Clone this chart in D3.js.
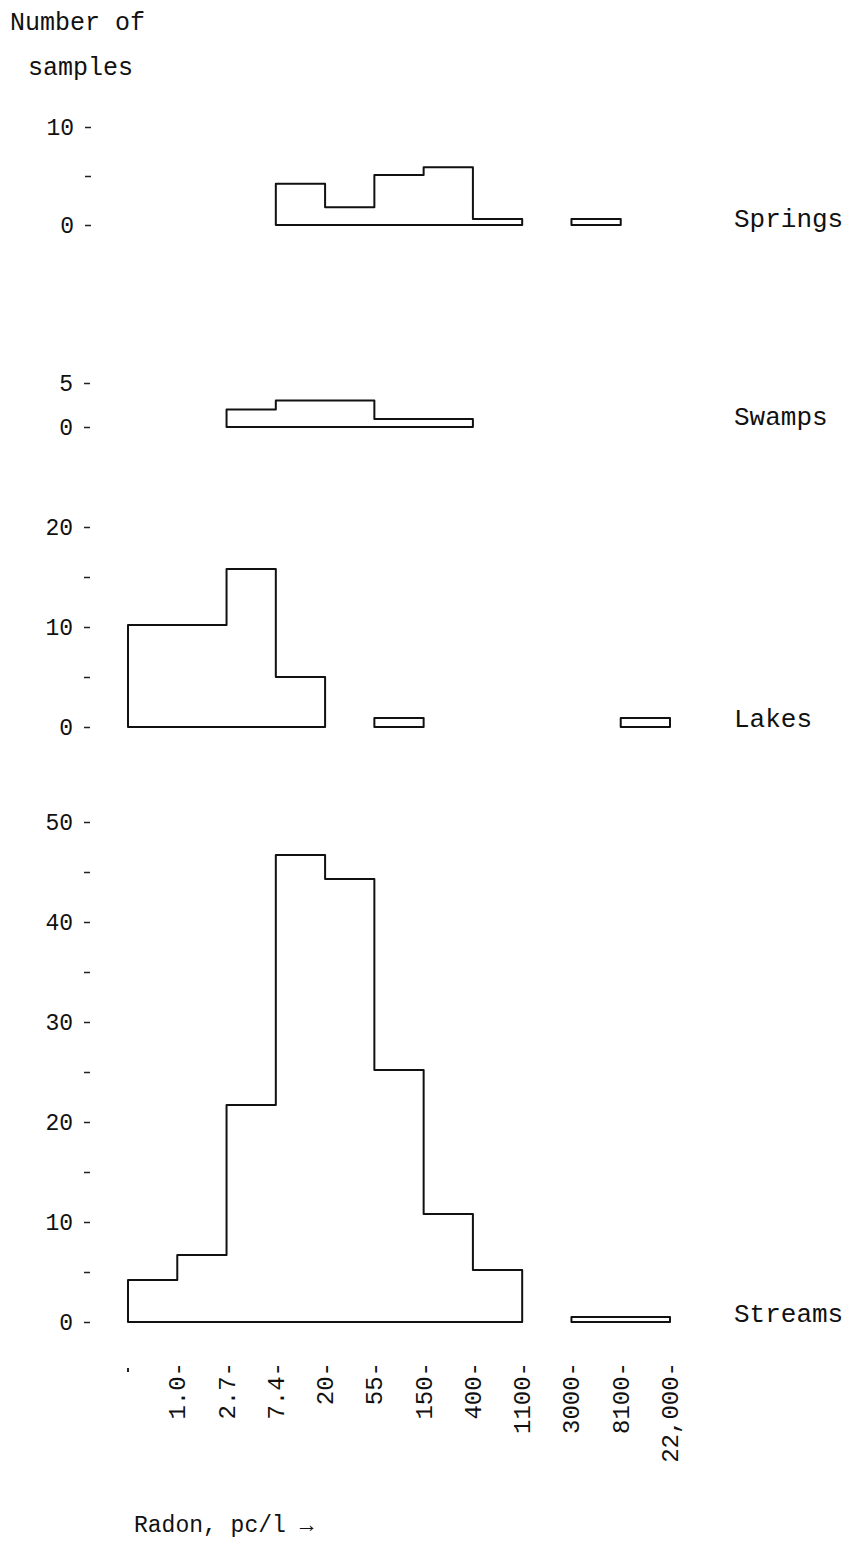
<!DOCTYPE html>
<html>
<head>
<meta charset="utf-8">
<script src="https://cdn.jsdelivr.net/npm/d3@7"></script>
<style>
  body { margin: 0; background: #fff; }
  svg text { font-family: "Liberation Mono", "DejaVu Sans Mono", monospace; fill: #111; }
</style>
</head>
<body>
<svg id="chart" width="858" height="1544"></svg>
<script>
// bin edges along the radon axis (pc/l), first edge has no label
const edgeLabels = ["", "1.0", "2.7", "7.4", "20", "55", "150", "400", "1100", "3000", "8100", "22,000"];

// counts per bin (11 bins between the 12 edges)
const springs = [0, 0, 0, 4.2, 1.8, 5.1, 5.9, 0.6, 0, 0.6, 0];
const swamps  = [0, 0, 2, 3, 3, 0.9, 0.9, 0, 0, 0, 0];
const lakes   = [10.2, 10.2, 15.8, 5, 0, 0.9, 0, 0, 0, 0, 0.9];
const streams = [4.2, 6.7, 21.7, 46.7, 44.3, 25.2, 10.8, 5.2, 0, 0.5, 0.5];

const panelNames = ["Springs", "Swamps", "Lakes", "Streams"];
const panelMax   = [10, 5, 20, 50];
const minorTicks = [[0, 5, 10], [0, 5], [0, 5, 10, 15, 20], d3.range(0, 51, 5)];
const labelTicks = [[0, 10], [0, 5], [0, 10, 20], [0, 10, 20, 30, 40, 50]];

const svg = d3.select("#chart");

const x = d3.scaleLinear().domain([0, edgeLabels.length - 1]).range([128, 670]);

// layout of the four stacked panels: y of zero line, y of max value, x of tick marks
const panels = [
  { data: springs, y0: 225, y1: 127, axisX: 91, labelY: 220 },
  { data: swamps,  y0: 427, y1: 383, axisX: 90, labelY: 418 },
  { data: lakes,   y0: 727, y1: 527, axisX: 90, labelY: 720 },
  { data: streams, y0: 1322, y1: 822, axisX: 90, labelY: 1315 }
];

// turn a count array into step outlines, one closed shape for each run of non-empty bins
function runs(values) {
  const out = [];
  let cur = null;
  values.forEach((v, i) => {
    if (v > 0) {
      if (!cur) { cur = { start: i, vals: [] }; out.push(cur); }
      cur.vals.push(v);
    } else {
      cur = null;
    }
  });
  return out;
}

function outline(run, y) {
  const pts = [[x(run.start), y(0)]];
  run.vals.forEach((v, k) => {
    pts.push([x(run.start + k), y(v)]);
    pts.push([x(run.start + k + 1), y(v)]);
  });
  pts.push([x(run.start + run.vals.length), y(0)]);
  return pts;
}

const line = d3.line();

panels.forEach((p, idx) => {
  const y = d3.scaleLinear().domain([0, panelMax[idx]]).range([p.y0, p.y1]);
  const g = svg.append("g").attr("class", "panel");

  // left axis: short dashes every 5, numbers on the labelled ones
  const axis = d3.axisLeft(y)
    .tickValues(minorTicks[idx])
    .tickSize(6)
    .tickPadding(11)
    .tickFormat(d => labelTicks[idx].includes(d) ? d : "");
  const ag = g.append("g").attr("transform", `translate(${p.axisX},0)`).call(axis);
  ag.select(".domain").remove();
  ag.selectAll(".tick line").attr("stroke", "#222").attr("stroke-width", 1.5);
  ag.selectAll(".tick text")
    .style("font-size", "23px")
    .attr("fill", "#111");

  // histogram outlines
  g.selectAll("path.hist")
    .data(runs(p.data))
    .join("path")
    .attr("class", "hist")
    .attr("d", r => line(outline(r, y)) + "Z")
    .attr("fill", "none")
    .attr("stroke", "#111")
    .attr("stroke-width", 2)
    .attr("stroke-linejoin", "round");

  g.append("text")
    .attr("x", 734)
    .attr("y", p.labelY)
    .attr("dominant-baseline", "middle")
    .style("font-size", "26px")
    .text(panelNames[idx]);
});

// bottom axis: rotated edge labels ending in a dash
const base = panels[3].y0;
const xg = svg.append("g").attr("class", "x-labels");
xg.selectAll("text")
  .data(edgeLabels.slice(1))
  .join("text")
  .attr("transform", (d, i) => `translate(${x(i + 1) + 8},${base + 40}) rotate(-90)`)
  .attr("text-anchor", "end")
  .style("font-size", "24px")
  .text(d => d + "-");
xg.append("line")
  .attr("x1", x(0)).attr("x2", x(0))
  .attr("y1", base + 46).attr("y2", base + 50)
  .attr("stroke", "#222").attr("stroke-width", 2);

svg.append("text")
  .attr("x", 134)
  .attr("y", base + 210)
  .style("font-size", "23px")
  .text("Radon, pc/l \u2192");

svg.append("text").attr("x", 10).attr("y", 30).style("font-size", "25px").text("Number of");
svg.append("text").attr("x", 28).attr("y", 75).style("font-size", "25px").text("samples");
</script>
</body>
</html>
